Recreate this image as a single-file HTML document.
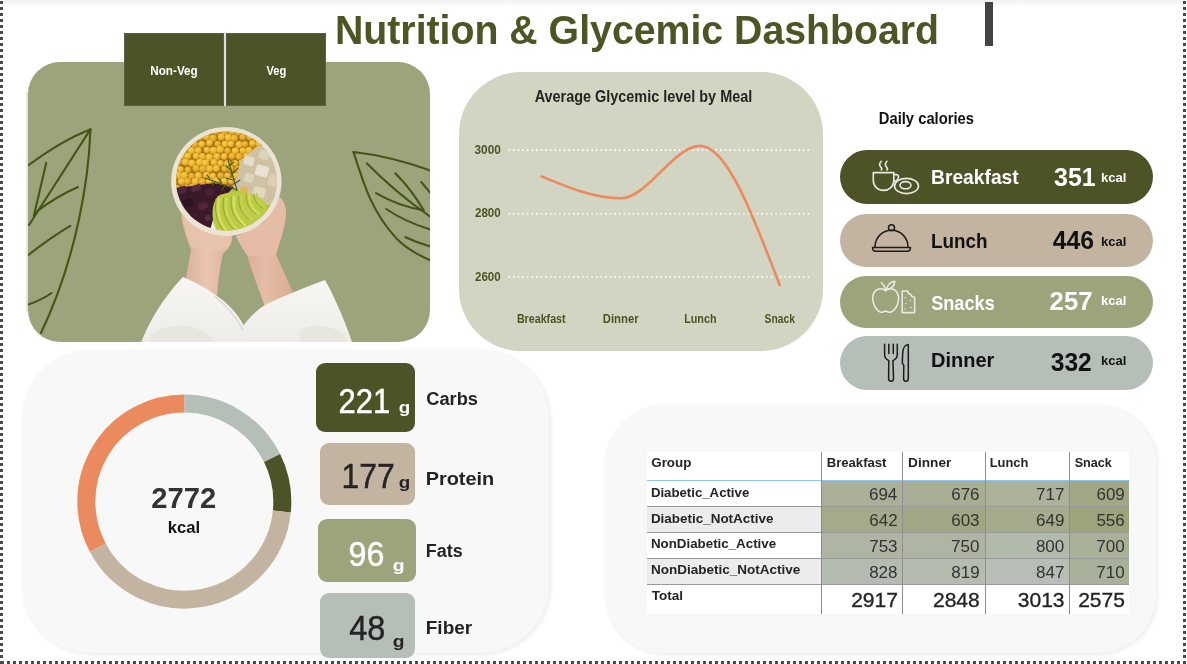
<!DOCTYPE html>
<html><head><meta charset="utf-8"><title>Nutrition &amp; Glycemic Dashboard</title><style>
*{margin:0;padding:0;box-sizing:border-box}
html,body{width:1187px;height:664px;overflow:hidden;background:#fff}
body{position:relative;font-family:'Liberation Sans', Arial, sans-serif}
.a{position:absolute}
svg text{font-family:'Liberation Sans', Arial, sans-serif}
</style></head><body>
<div class="a" style="left:3px;top:0;width:1180px;height:6px;background:linear-gradient(#efefef,#f6f6f6 45%,#fff)"></div>
<div class="a" style="left:0;top:0;width:3px;height:664px;background:repeating-linear-gradient(to bottom,transparent 0 1px,#4a4a4a 1px 4px,transparent 4px 6px)"></div>
<div class="a" style="left:1183px;top:0;width:3px;height:664px;background:repeating-linear-gradient(to bottom,transparent 0 1px,#4a4a4a 1px 4px,transparent 4px 6px)"></div>
<div class="a" style="left:0;top:661px;width:1186px;height:3px;background:repeating-linear-gradient(to right,transparent 0 1px,#4a4a4a 1px 4px,transparent 4px 6px)"></div>
<div class="a" style="left:0;top:661px;width:3px;height:3px;background:#4a4a4a"></div>
<div class="a" style="left:985px;top:2px;width:8px;height:44px;background:#444"></div>
<div class="a" style="left:26px;top:92px;width:3px;height:220px;background:#e3e6e6"></div>
<div class="a" id="imgcard" style="left:28px;top:62px;width:402px;height:280px;border-radius:32px;overflow:hidden;background:#9ca47c"><svg width="402" height="280" viewBox="28 62 402 280" style="display:block"><defs><clipPath id="bowlin"><ellipse cx="226.5" cy="181" rx="50.5" ry="49.5"/></clipPath><clipPath id="cp"><path d="M170,176 L172,150 L190,128 L228,122 L262,128 L276,146 L268,148 L258,146 L246,153 L240,160 L236,172 L229,180 L214,182 L196,180 L178,178 Z"/></clipPath><linearGradient id="skinL" x1="0" y1="0" x2="1" y2="0"><stop offset="0" stop-color="#d9ad96"/><stop offset="0.5" stop-color="#e9c5b0"/><stop offset="1" stop-color="#dcb09a"/></linearGradient><linearGradient id="skinR" x1="0" y1="0" x2="1" y2="0"><stop offset="0" stop-color="#d6a68e"/><stop offset="0.5" stop-color="#e5bda7"/><stop offset="1" stop-color="#daac95"/></linearGradient><linearGradient id="slv" x1="0" y1="0" x2="0" y2="1"><stop offset="0" stop-color="#f7f6f3"/><stop offset="1" stop-color="#eeece7"/></linearGradient><radialGradient id="cpA" cx="0.4" cy="0.35" r="0.7"><stop offset="0" stop-color="#f8d050"/><stop offset="0.6" stop-color="#eab530"/><stop offset="1" stop-color="#c98e1c"/></radialGradient><radialGradient id="cpB" cx="0.4" cy="0.35" r="0.7"><stop offset="0" stop-color="#f3c440"/><stop offset="0.6" stop-color="#e2a828"/><stop offset="1" stop-color="#c08418"/></radialGradient></defs><path d="M90.4,129.4 Q62,140 26,167" fill="none" stroke="#445516" stroke-width="2.1" stroke-linecap="round"/><path d="M90.4,129.4 C89,175 78,255 41,333" fill="none" stroke="#445516" stroke-width="2.1" stroke-linecap="round"/><path d="M90.4,129.4 L29,225" fill="none" stroke="#445516" stroke-width="2.1" stroke-linecap="round"/><path d="M46.2,163 L33.8,216" fill="none" stroke="#445516" stroke-width="2.1" stroke-linecap="round"/><path d="M35.6,212.5 Q55,197 78,187" fill="none" stroke="#445516" stroke-width="2.1" stroke-linecap="round"/><path d="M27,256 Q50,238 70.2,225.9" fill="none" stroke="#445516" stroke-width="2.1" stroke-linecap="round"/><path d="M27,305 Q42,300 51.5,293" fill="none" stroke="#445516" stroke-width="2.1" stroke-linecap="round"/><path d="M353.5,152 Q390,156 432,171" fill="none" stroke="#445516" stroke-width="2.1" stroke-linecap="round"/><path d="M353.5,152 C364,185 372,212 396.4,238.4 C408,250 420,256 432,261" fill="none" stroke="#445516" stroke-width="2.1" stroke-linecap="round"/><path d="M367,163.4 Q395,192 432,218" fill="none" stroke="#445516" stroke-width="2.1" stroke-linecap="round"/><path d="M395.3,173.3 Q412,190 423.5,210.1" fill="none" stroke="#445516" stroke-width="2.1" stroke-linecap="round"/><path d="M376,193.2 Q400,207 423.5,210.1" fill="none" stroke="#445516" stroke-width="2.1" stroke-linecap="round"/><path d="M386.3,209 Q405,222 432,230" fill="none" stroke="#445516" stroke-width="2.1" stroke-linecap="round"/><path d="M405.5,237.2 Q418,243 432,247" fill="none" stroke="#445516" stroke-width="2.1" stroke-linecap="round"/><path d="M421.3,182 L432,195" fill="none" stroke="#445516" stroke-width="2.1" stroke-linecap="round"/><path d="M181,214 C183,230 188,242 191,250 C189,262 187,272 185,284 L217,296 C218,282 220,266 223,254 C228,249 232,244 232,236 Z" fill="url(#skinL)"/><path d="M182,216 C184,229 188,240 192,247 C203,251 216,251 226,250 C230,246 232,242 232,236 Z" fill="#e8c3ad" opacity="0.9"/><path d="M236,236 C240,245 244,250 247,255 C252,272 259,290 266,310 L294,295 C288,281 281,266 276,254 C279,244 285,228 286,214 C286,205 283,199 279,197 C276,204 272,212 266,220 C258,228 246,233 236,236 Z" fill="url(#skinR)"/><path d="M236,236 C240,245 244,250 247,255 C256,257 268,256 276,254 C279,244 285,228 286,214 C286,205 283,199 279,197 C276,204 272,212 266,220 C258,228 246,233 236,236 Z" fill="#e6bda6" opacity="0.9"/><path d="M183,277 C195,282 206,288 214,294 C228,303 238,314 244,326 L248,345 L140,345 C146,330 152,318 160,306 C168,294 176,284 183,277 Z" fill="url(#slv)"/><path d="M243,326 C249,318 256,311 262,307 C272,301 282,297 292,293 C303,288 314,284 325,280 C334,296 344,318 353,345 L240,345 Z" fill="url(#slv)"/><path d="M214,296 C226,305 236,316 243,330" fill="none" stroke="#dcd8d0" stroke-width="1.5"/><path d="M150,335 C165,325 185,322 200,330 C210,336 215,342 218,345 L150,345 Z" fill="#e6e3dc" opacity="0.7"/><path d="M300,330 C315,322 330,325 345,335 L348,345 L300,345 Z" fill="#e6e3dc" opacity="0.7"/><ellipse cx="226.3" cy="181.5" rx="55.2" ry="54.5" fill="#ebe4d4"/><ellipse cx="226.5" cy="181" rx="50.5" ry="49.5" fill="#f2ede2"/><g clip-path="url(#bowlin)"><path d="M234.0,187.0 L214.0,183.0 L171.0,188.7 L170.7,176.7 L172.9,164.9 L177.8,153.9 L184.9,144.2 L194.0,136.2 L204.6,130.4 L216.3,126.9 L228.5,126.0 L240.5,127.8 L251.9,132.0 L262.1,138.6 L270.6,147.1 L258.0,146.0 L241.0,160.0 Z" fill="#a66f12"/><clipPath id="cp2"><path d="M234.0,187.0 L214.0,183.0 L171.0,188.7 L170.7,176.7 L172.9,164.9 L177.8,153.9 L184.9,144.2 L194.0,136.2 L204.6,130.4 L216.3,126.9 L228.5,126.0 L240.5,127.8 L251.9,132.0 L262.1,138.6 L270.6,147.1 L258.0,146.0 L241.0,160.0 Z" fill="#000"/></clipPath><g clip-path="url(#cp2)"><circle cx="162.6" cy="125.1" r="3.7" fill="url(#cpB)"/><circle cx="170.2" cy="125.1" r="3.2" fill="url(#cpA)"/><circle cx="177.9" cy="124.6" r="3.3" fill="url(#cpA)"/><circle cx="184.9" cy="125.1" r="3.5" fill="url(#cpA)"/><circle cx="192.0" cy="124.4" r="3.3" fill="url(#cpA)"/><circle cx="199.7" cy="124.8" r="3.6" fill="url(#cpA)"/><circle cx="205.5" cy="125.4" r="3.2" fill="url(#cpA)"/><circle cx="213.8" cy="125.5" r="3.5" fill="url(#cpB)"/><circle cx="221.0" cy="125.6" r="3.7" fill="url(#cpA)"/><circle cx="227.7" cy="125.4" r="3.5" fill="url(#cpA)"/><circle cx="235.7" cy="125.6" r="3.2" fill="url(#cpA)"/><circle cx="242.2" cy="124.6" r="3.5" fill="url(#cpA)"/><circle cx="249.6" cy="124.7" r="3.7" fill="url(#cpA)"/><circle cx="256.7" cy="125.1" r="3.6" fill="url(#cpB)"/><circle cx="264.4" cy="125.3" r="3.7" fill="url(#cpA)"/><circle cx="271.8" cy="125.3" r="3.6" fill="url(#cpA)"/><circle cx="277.9" cy="125.1" r="3.5" fill="url(#cpA)"/><circle cx="285.7" cy="124.5" r="3.4" fill="url(#cpA)"/><circle cx="166.0" cy="131.3" r="3.8" fill="url(#cpA)"/><circle cx="173.1" cy="131.8" r="3.7" fill="url(#cpB)"/><circle cx="180.2" cy="131.2" r="3.7" fill="url(#cpB)"/><circle cx="187.5" cy="131.5" r="3.4" fill="url(#cpA)"/><circle cx="195.5" cy="131.4" r="3.5" fill="url(#cpB)"/><circle cx="203.4" cy="131.0" r="3.3" fill="url(#cpA)"/><circle cx="209.9" cy="132.0" r="3.4" fill="url(#cpB)"/><circle cx="216.6" cy="131.6" r="3.4" fill="url(#cpB)"/><circle cx="224.9" cy="131.9" r="3.4" fill="url(#cpB)"/><circle cx="232.0" cy="131.1" r="3.6" fill="url(#cpA)"/><circle cx="238.0" cy="132.1" r="3.4" fill="url(#cpA)"/><circle cx="246.0" cy="131.6" r="3.5" fill="url(#cpB)"/><circle cx="252.6" cy="131.0" r="3.2" fill="url(#cpB)"/><circle cx="260.1" cy="131.4" r="3.4" fill="url(#cpA)"/><circle cx="267.5" cy="130.7" r="3.6" fill="url(#cpA)"/><circle cx="274.5" cy="131.6" r="3.6" fill="url(#cpB)"/><circle cx="281.4" cy="131.3" r="3.2" fill="url(#cpA)"/><circle cx="163.3" cy="138.3" r="3.6" fill="url(#cpB)"/><circle cx="169.9" cy="137.8" r="3.4" fill="url(#cpA)"/><circle cx="177.1" cy="137.4" r="3.4" fill="url(#cpA)"/><circle cx="185.1" cy="137.0" r="3.8" fill="url(#cpA)"/><circle cx="192.1" cy="137.0" r="3.3" fill="url(#cpA)"/><circle cx="199.5" cy="137.2" r="3.6" fill="url(#cpA)"/><circle cx="206.4" cy="137.0" r="3.4" fill="url(#cpA)"/><circle cx="213.1" cy="138.1" r="3.7" fill="url(#cpB)"/><circle cx="221.3" cy="136.9" r="3.6" fill="url(#cpA)"/><circle cx="228.4" cy="137.5" r="3.7" fill="url(#cpA)"/><circle cx="234.3" cy="138.3" r="3.7" fill="url(#cpB)"/><circle cx="242.7" cy="137.1" r="3.4" fill="url(#cpB)"/><circle cx="249.9" cy="136.9" r="3.4" fill="url(#cpA)"/><circle cx="256.0" cy="137.3" r="3.5" fill="url(#cpB)"/><circle cx="264.0" cy="137.3" r="3.4" fill="url(#cpA)"/><circle cx="271.7" cy="137.0" r="3.5" fill="url(#cpA)"/><circle cx="278.7" cy="137.8" r="3.5" fill="url(#cpA)"/><circle cx="286.1" cy="138.3" r="3.2" fill="url(#cpA)"/><circle cx="166.5" cy="144.3" r="3.5" fill="url(#cpA)"/><circle cx="173.5" cy="143.6" r="3.7" fill="url(#cpA)"/><circle cx="181.6" cy="144.7" r="3.7" fill="url(#cpA)"/><circle cx="187.5" cy="144.5" r="3.5" fill="url(#cpA)"/><circle cx="194.9" cy="144.5" r="3.5" fill="url(#cpB)"/><circle cx="201.8" cy="144.3" r="3.5" fill="url(#cpA)"/><circle cx="209.4" cy="143.1" r="3.4" fill="url(#cpA)"/><circle cx="217.7" cy="144.1" r="3.3" fill="url(#cpB)"/><circle cx="225.0" cy="144.0" r="3.4" fill="url(#cpA)"/><circle cx="230.9" cy="144.0" r="3.3" fill="url(#cpA)"/><circle cx="239.1" cy="144.6" r="3.7" fill="url(#cpA)"/><circle cx="245.0" cy="144.1" r="3.2" fill="url(#cpB)"/><circle cx="252.6" cy="143.5" r="3.5" fill="url(#cpA)"/><circle cx="259.5" cy="143.6" r="3.7" fill="url(#cpA)"/><circle cx="267.8" cy="143.2" r="3.2" fill="url(#cpA)"/><circle cx="275.4" cy="144.5" r="3.5" fill="url(#cpA)"/><circle cx="281.8" cy="143.4" r="3.4" fill="url(#cpA)"/><circle cx="163.2" cy="150.3" r="3.4" fill="url(#cpB)"/><circle cx="171.0" cy="150.1" r="3.5" fill="url(#cpA)"/><circle cx="177.7" cy="150.0" r="3.5" fill="url(#cpA)"/><circle cx="183.9" cy="150.1" r="3.7" fill="url(#cpA)"/><circle cx="191.6" cy="150.7" r="3.7" fill="url(#cpA)"/><circle cx="198.3" cy="150.4" r="3.4" fill="url(#cpA)"/><circle cx="206.9" cy="150.1" r="3.3" fill="url(#cpA)"/><circle cx="213.5" cy="150.5" r="3.7" fill="url(#cpA)"/><circle cx="220.2" cy="149.6" r="3.8" fill="url(#cpA)"/><circle cx="227.6" cy="150.8" r="3.3" fill="url(#cpB)"/><circle cx="235.3" cy="150.9" r="3.6" fill="url(#cpA)"/><circle cx="242.8" cy="150.7" r="3.3" fill="url(#cpA)"/><circle cx="249.1" cy="150.3" r="3.6" fill="url(#cpA)"/><circle cx="256.6" cy="149.8" r="3.2" fill="url(#cpB)"/><circle cx="263.1" cy="149.6" r="3.3" fill="url(#cpB)"/><circle cx="270.2" cy="150.7" r="3.2" fill="url(#cpA)"/><circle cx="277.6" cy="150.2" r="3.8" fill="url(#cpA)"/><circle cx="285.5" cy="150.7" r="3.8" fill="url(#cpA)"/><circle cx="166.7" cy="156.5" r="3.3" fill="url(#cpA)"/><circle cx="174.2" cy="157.2" r="3.5" fill="url(#cpA)"/><circle cx="181.6" cy="156.0" r="3.3" fill="url(#cpA)"/><circle cx="187.7" cy="156.1" r="3.6" fill="url(#cpA)"/><circle cx="196.1" cy="156.1" r="3.4" fill="url(#cpA)"/><circle cx="202.4" cy="156.4" r="3.4" fill="url(#cpA)"/><circle cx="209.4" cy="157.2" r="3.8" fill="url(#cpA)"/><circle cx="216.9" cy="156.6" r="3.6" fill="url(#cpA)"/><circle cx="224.2" cy="156.5" r="3.4" fill="url(#cpA)"/><circle cx="232.0" cy="156.0" r="3.6" fill="url(#cpB)"/><circle cx="239.3" cy="156.5" r="3.6" fill="url(#cpB)"/><circle cx="246.4" cy="155.9" r="3.3" fill="url(#cpA)"/><circle cx="253.0" cy="157.2" r="3.5" fill="url(#cpA)"/><circle cx="260.6" cy="156.8" r="3.6" fill="url(#cpB)"/><circle cx="267.5" cy="157.3" r="3.4" fill="url(#cpA)"/><circle cx="274.2" cy="157.0" r="3.3" fill="url(#cpA)"/><circle cx="281.6" cy="156.2" r="3.5" fill="url(#cpA)"/><circle cx="163.3" cy="163.1" r="3.5" fill="url(#cpA)"/><circle cx="170.7" cy="163.3" r="3.2" fill="url(#cpA)"/><circle cx="178.2" cy="162.1" r="3.7" fill="url(#cpB)"/><circle cx="185.2" cy="162.1" r="3.7" fill="url(#cpA)"/><circle cx="192.0" cy="163.2" r="3.8" fill="url(#cpA)"/><circle cx="199.6" cy="162.4" r="3.7" fill="url(#cpA)"/><circle cx="205.6" cy="163.0" r="3.7" fill="url(#cpA)"/><circle cx="214.0" cy="162.4" r="3.4" fill="url(#cpA)"/><circle cx="220.5" cy="163.2" r="3.3" fill="url(#cpA)"/><circle cx="227.4" cy="163.5" r="3.4" fill="url(#cpA)"/><circle cx="235.1" cy="163.1" r="3.2" fill="url(#cpA)"/><circle cx="241.9" cy="162.6" r="3.3" fill="url(#cpA)"/><circle cx="249.5" cy="163.5" r="3.3" fill="url(#cpB)"/><circle cx="256.3" cy="163.4" r="3.6" fill="url(#cpA)"/><circle cx="263.2" cy="163.4" r="3.3" fill="url(#cpB)"/><circle cx="271.7" cy="162.6" r="3.7" fill="url(#cpB)"/><circle cx="277.9" cy="163.1" r="3.8" fill="url(#cpA)"/><circle cx="285.9" cy="162.2" r="3.6" fill="url(#cpB)"/><circle cx="166.7" cy="168.5" r="3.5" fill="url(#cpB)"/><circle cx="173.1" cy="168.8" r="3.5" fill="url(#cpA)"/><circle cx="180.5" cy="169.3" r="3.3" fill="url(#cpA)"/><circle cx="188.0" cy="169.8" r="3.3" fill="url(#cpB)"/><circle cx="196.1" cy="168.5" r="3.6" fill="url(#cpB)"/><circle cx="202.8" cy="169.0" r="3.6" fill="url(#cpB)"/><circle cx="209.7" cy="168.8" r="3.6" fill="url(#cpA)"/><circle cx="216.4" cy="168.6" r="3.5" fill="url(#cpA)"/><circle cx="224.6" cy="168.9" r="3.4" fill="url(#cpB)"/><circle cx="230.7" cy="168.5" r="3.5" fill="url(#cpB)"/><circle cx="238.2" cy="169.5" r="3.7" fill="url(#cpB)"/><circle cx="246.5" cy="169.0" r="3.4" fill="url(#cpA)"/><circle cx="253.6" cy="168.5" r="3.6" fill="url(#cpB)"/><circle cx="260.5" cy="169.2" r="3.3" fill="url(#cpA)"/><circle cx="267.7" cy="169.2" r="3.6" fill="url(#cpA)"/><circle cx="275.1" cy="169.5" r="3.6" fill="url(#cpA)"/><circle cx="282.4" cy="169.6" r="3.5" fill="url(#cpA)"/><circle cx="163.1" cy="174.9" r="3.4" fill="url(#cpB)"/><circle cx="169.9" cy="175.9" r="3.7" fill="url(#cpB)"/><circle cx="178.1" cy="175.2" r="3.7" fill="url(#cpA)"/><circle cx="184.3" cy="175.4" r="3.6" fill="url(#cpA)"/><circle cx="191.5" cy="176.0" r="3.2" fill="url(#cpB)"/><circle cx="198.5" cy="175.6" r="3.7" fill="url(#cpA)"/><circle cx="206.5" cy="175.4" r="3.6" fill="url(#cpA)"/><circle cx="212.9" cy="175.9" r="3.2" fill="url(#cpA)"/><circle cx="220.6" cy="175.6" r="3.3" fill="url(#cpB)"/><circle cx="227.5" cy="175.7" r="3.3" fill="url(#cpA)"/><circle cx="235.5" cy="175.6" r="3.2" fill="url(#cpA)"/><circle cx="242.4" cy="175.4" r="3.5" fill="url(#cpB)"/><circle cx="250.1" cy="175.1" r="3.6" fill="url(#cpB)"/><circle cx="256.0" cy="176.0" r="3.7" fill="url(#cpA)"/><circle cx="263.1" cy="174.7" r="3.8" fill="url(#cpB)"/><circle cx="270.5" cy="174.7" r="3.5" fill="url(#cpA)"/><circle cx="278.6" cy="175.4" r="3.7" fill="url(#cpA)"/><circle cx="285.3" cy="176.0" r="3.3" fill="url(#cpA)"/><circle cx="166.6" cy="182.0" r="3.7" fill="url(#cpA)"/><circle cx="173.3" cy="181.7" r="3.5" fill="url(#cpA)"/><circle cx="181.4" cy="181.5" r="3.5" fill="url(#cpA)"/><circle cx="187.5" cy="181.3" r="3.5" fill="url(#cpB)"/><circle cx="195.2" cy="181.5" r="3.7" fill="url(#cpA)"/><circle cx="202.2" cy="181.5" r="3.5" fill="url(#cpB)"/><circle cx="209.3" cy="180.9" r="3.4" fill="url(#cpA)"/><circle cx="216.5" cy="180.9" r="3.6" fill="url(#cpA)"/><circle cx="224.1" cy="181.2" r="3.4" fill="url(#cpA)"/><circle cx="231.1" cy="181.0" r="3.2" fill="url(#cpA)"/><circle cx="238.4" cy="181.5" r="3.7" fill="url(#cpA)"/><circle cx="246.4" cy="181.3" r="3.5" fill="url(#cpB)"/><circle cx="252.5" cy="181.9" r="3.7" fill="url(#cpB)"/><circle cx="260.4" cy="182.2" r="3.4" fill="url(#cpB)"/><circle cx="267.9" cy="181.6" r="3.5" fill="url(#cpB)"/><circle cx="274.7" cy="180.9" r="3.6" fill="url(#cpB)"/><circle cx="281.6" cy="181.0" r="3.5" fill="url(#cpA)"/><circle cx="162.3" cy="188.2" r="3.2" fill="url(#cpA)"/><circle cx="169.5" cy="187.5" r="3.5" fill="url(#cpA)"/><circle cx="176.9" cy="188.0" r="3.3" fill="url(#cpB)"/><circle cx="185.4" cy="188.0" r="3.8" fill="url(#cpB)"/><circle cx="192.5" cy="187.3" r="3.7" fill="url(#cpB)"/><circle cx="199.2" cy="187.8" r="3.3" fill="url(#cpB)"/><circle cx="206.1" cy="188.0" r="3.4" fill="url(#cpA)"/><circle cx="213.7" cy="188.7" r="3.7" fill="url(#cpA)"/><circle cx="221.2" cy="187.8" r="3.4" fill="url(#cpA)"/><circle cx="227.3" cy="188.5" r="3.3" fill="url(#cpB)"/><circle cx="235.4" cy="188.0" r="3.7" fill="url(#cpB)"/><circle cx="242.2" cy="188.4" r="3.6" fill="url(#cpA)"/><circle cx="250.1" cy="187.3" r="3.6" fill="url(#cpA)"/><circle cx="255.8" cy="187.9" r="3.6" fill="url(#cpA)"/><circle cx="263.2" cy="187.6" r="3.2" fill="url(#cpA)"/><circle cx="271.2" cy="187.3" r="3.7" fill="url(#cpB)"/><circle cx="278.6" cy="187.7" r="3.2" fill="url(#cpB)"/><circle cx="284.9" cy="188.5" r="3.4" fill="url(#cpA)"/></g><path d="M234.0,187.0 L241.0,160.0 L258.0,146.0 L270.6,147.1 L273.7,151.4 L276.4,156.0 L278.6,160.8 L280.3,165.8 L281.6,171.0 L282.3,176.2 L282.5,181.5 L282.2,186.7 L281.4,192.0 L280.1,197.1 L278.2,202.0 L275.9,206.8 L252.0,200.0 Z" fill="#cfc2a2"/><rect x="244.0" y="156.5" width="10.0" height="9.0" rx="2" fill="#e4ddcc" transform="rotate(15 249.0 161.0)"/><rect x="259.0" y="150.5" width="10.0" height="9.0" rx="2" fill="#dcd3bd" transform="rotate(15 264.0 155.0)"/><rect x="255.5" y="165.5" width="13.0" height="11.0" rx="2" fill="#e9e2d3" transform="rotate(15 262.0 171.0)"/><rect x="244.5" y="173.5" width="9.0" height="9.0" rx="2" fill="#ddd4c0" transform="rotate(15 249.0 178.0)"/><rect x="268.5" y="174.0" width="9.0" height="12.0" rx="2" fill="#d9cfb6" transform="rotate(15 273.0 180.0)"/><rect x="253.0" y="187.0" width="12.0" height="10.0" rx="2" fill="#e2d8c2" transform="rotate(15 259.0 192.0)"/><rect x="268.0" y="194.0" width="8.0" height="8.0" rx="2" fill="#cdbf9f" transform="rotate(15 272.0 198.0)"/><rect x="240.0" y="187.0" width="8.0" height="8.0" rx="2" fill="#e0b84a" transform="rotate(15 244.0 191.0)"/><rect x="251.5" y="200.5" width="7.0" height="5.0" rx="2" fill="#d8b060" transform="rotate(15 255.0 203.0)"/><path d="M234.0,187.0 L222.0,200.0 L214.0,216.0 L209.2,233.3 L204.3,231.5 L199.6,229.3 L195.2,226.6 L191.0,223.5 L187.1,220.1 L183.6,216.4 L180.4,212.3 L177.7,207.9 L175.3,203.4 L173.4,198.6 L172.0,193.7 L171.0,188.7 L214.0,183.0 Z" fill="#3a1929"/><rect x="177.5" y="186.5" width="9.0" height="7.0" rx="1.5" fill="#4e2437" transform="rotate(-20 182.0 190.0)"/><rect x="191.0" y="185.0" width="10.0" height="6.0" rx="1.5" fill="#552940" transform="rotate(-20 196.0 188.0)"/><rect x="206.0" y="188.5" width="8.0" height="7.0" rx="1.5" fill="#4a2033" transform="rotate(-20 210.0 192.0)"/><rect x="183.5" y="199.0" width="9.0" height="8.0" rx="1.5" fill="#2e1220" transform="rotate(-20 188.0 203.0)"/><rect x="198.0" y="202.5" width="10.0" height="7.0" rx="1.5" fill="#4f2538" transform="rotate(-20 203.0 206.0)"/><rect x="190.0" y="214.0" width="8.0" height="6.0" rx="1.5" fill="#3f1b2c" transform="rotate(-20 194.0 217.0)"/><rect x="205.0" y="215.0" width="6.0" height="6.0" rx="1.5" fill="#5a2b42" transform="rotate(-20 208.0 218.0)"/><rect x="176.5" y="205.0" width="7.0" height="6.0" rx="1.5" fill="#4a2234" transform="rotate(-20 180.0 208.0)"/><path d="M234.0,187.0 L252.0,200.0 L275.9,206.8 L272.9,211.8 L269.4,216.4 L265.4,220.6 L261.0,224.3 L256.2,227.6 L251.0,230.4 L245.7,232.7 L240.0,234.4 L234.3,235.5 L228.5,236.0 L222.6,235.9 L216.8,235.2 L214.0,216.0 L222.0,200.0 Z" fill="#b3c23a"/><path d="M218,196 C232,189 258,191 266,204 C269,215 259,226 246,232 C237,236 226,237 219,233 C211,226 210,205 218,196 Z" fill="#bccb44"/><path d="M219.0,199.0 Q215.0,220.5 231.0,236.0" fill="none" stroke="#d4dc62" stroke-width="2.6" stroke-linecap="round"/><path d="M216.0,199.0 Q212.0,220.5 228.0,236.0" fill="none" stroke="#8fa12c" stroke-width="0.9" stroke-linecap="round"/><path d="M226.5,198.0 Q223.5,217.2 238.0,230.5" fill="none" stroke="#cbd558" stroke-width="2.6" stroke-linecap="round"/><path d="M223.5,198.0 Q220.5,217.2 235.0,230.5" fill="none" stroke="#8fa12c" stroke-width="0.9" stroke-linecap="round"/><path d="M234.0,197.0 Q232.0,214.0 245.0,225.0" fill="none" stroke="#d6de66" stroke-width="2.6" stroke-linecap="round"/><path d="M231.0,197.0 Q229.0,214.0 242.0,225.0" fill="none" stroke="#8fa12c" stroke-width="0.9" stroke-linecap="round"/><path d="M241.5,196.0 Q240.5,210.8 252.0,219.5" fill="none" stroke="#c6d152" stroke-width="2.6" stroke-linecap="round"/><path d="M238.5,196.0 Q237.5,210.8 249.0,219.5" fill="none" stroke="#8fa12c" stroke-width="0.9" stroke-linecap="round"/><path d="M249.0,195.0 Q249.0,207.5 259.0,214.0" fill="none" stroke="#d0d95e" stroke-width="2.6" stroke-linecap="round"/><path d="M246.0,195.0 Q246.0,207.5 256.0,214.0" fill="none" stroke="#8fa12c" stroke-width="0.9" stroke-linecap="round"/><path d="M256.5,194.0 Q257.5,204.2 266.0,208.5" fill="none" stroke="#c2ce4e" stroke-width="2.6" stroke-linecap="round"/><path d="M253.5,194.0 Q254.5,204.2 263.0,208.5" fill="none" stroke="#8fa12c" stroke-width="0.9" stroke-linecap="round"/></g><path d="M237,190 L228,160" stroke="#3f5a26" stroke-width="1.1" fill="none" stroke-linecap="round"/><path d="M237,190 L205,178" stroke="#3f5a26" stroke-width="1.1" fill="none" stroke-linecap="round"/><path d="M231,170 L226,166" stroke="#3f5a26" stroke-width="1.1" fill="none" stroke-linecap="round"/><path d="M232,174 L238,168" stroke="#3f5a26" stroke-width="1.1" fill="none" stroke-linecap="round"/><path d="M229,166 L234,162" stroke="#3f5a26" stroke-width="1.1" fill="none" stroke-linecap="round"/><path d="M233,180 L226,178" stroke="#3f5a26" stroke-width="1.1" fill="none" stroke-linecap="round"/><path d="M222,183 L218,178" stroke="#3f5a26" stroke-width="1.1" fill="none" stroke-linecap="round"/><path d="M215,181 L212,186" stroke="#3f5a26" stroke-width="1.1" fill="none" stroke-linecap="round"/><path d="M225,185 L222,190" stroke="#3f5a26" stroke-width="1.1" fill="none" stroke-linecap="round"/><path d="M210,179 L207,175" stroke="#3f5a26" stroke-width="1.1" fill="none" stroke-linecap="round"/><path d="M234,184 L240,180" stroke="#3f5a26" stroke-width="1.1" fill="none" stroke-linecap="round"/></svg></div>
<div class="a" style="left:124px;top:33px;width:202px;height:73px;background:#dedede"></div>
<div class="a" style="left:124px;top:33px;width:100px;height:73px;background:#4d5327;border:1px solid #5b5e48"></div>
<div class="a" style="left:226px;top:33px;width:100px;height:73px;background:#4d5327;border:1px solid #5b5e48"></div>
<div class="a" style="left:459px;top:72px;width:364px;height:279px;border-radius:62px;background:#d3d5c3"></div>
<div class="a" style="left:840px;top:150.0px;width:313px;height:53.5px;border-radius:27px;background:#4d5327"></div>
<div class="a" style="left:840px;top:214.0px;width:313px;height:52.5px;border-radius:27px;background:#c3b4a2"></div>
<div class="a" style="left:840px;top:275.5px;width:313px;height:52.0px;border-radius:27px;background:#9ca47c"></div>
<div class="a" style="left:840px;top:336.0px;width:313px;height:53.5px;border-radius:27px;background:#b5bfb7"></div>
<div class="a" style="left:23px;top:351px;width:526px;height:302px;border-radius:68px;background:#f8f8f8;box-shadow:1px 1px 4px 1px rgba(0,0,0,0.07)"></div>
<div class="a" style="left:606px;top:406px;width:550px;height:247px;border-radius:58px;background:#f8f8f8;box-shadow:1px 1px 4px 1px rgba(0,0,0,0.07)"></div>
<div class="a" style="left:316.3px;top:363.0px;width:99.0px;height:69.0px;border-radius:9px;background:#4d5327"></div>
<div class="a" style="left:319.7px;top:442.5px;width:95.6px;height:62.5px;border-radius:9px;background:#c3b4a2"></div>
<div class="a" style="left:318.1px;top:519.0px;width:97.6px;height:63.0px;border-radius:9px;background:#9ca47c"></div>
<div class="a" style="left:319.7px;top:592.5px;width:95.6px;height:65.5px;border-radius:9px;background:#b5bfb7"></div>
<svg class="a" style="left:0;top:0;will-change:transform" width="1187" height="664" viewBox="0 0 1187 664"><text x="334.97" y="44.00" font-size="40.70" font-weight="bold" fill="#4e5524" textLength="604.11" lengthAdjust="spacingAndGlyphs">Nutrition &amp; Glycemic Dashboard</text>
<text x="150.23" y="74.70" font-size="12.50" font-weight="bold" fill="#fff" textLength="47.55" lengthAdjust="spacingAndGlyphs">Non-Veg</text>
<text x="266.53" y="74.70" font-size="12.50" font-weight="bold" fill="#fff" textLength="19.69" lengthAdjust="spacingAndGlyphs">Veg</text>
<text x="534.64" y="102.10" font-size="15.70" font-weight="bold" fill="#252423" textLength="217.58" lengthAdjust="spacingAndGlyphs">Average Glycemic level by Meal</text>
<text x="474.53" y="154.10" font-size="11.90" font-weight="bold" fill="#4d5326" textLength="26.36" lengthAdjust="spacingAndGlyphs">3000</text>
<text x="475.00" y="217.10" font-size="11.90" font-weight="bold" fill="#4d5326" textLength="25.67" lengthAdjust="spacingAndGlyphs">2800</text>
<text x="475.00" y="280.80" font-size="11.90" font-weight="bold" fill="#4d5326" textLength="25.67" lengthAdjust="spacingAndGlyphs">2600</text>
<line x1="508.5" y1="150.1" x2="811" y2="150.1" stroke="#fff" stroke-width="1.6" stroke-dasharray="1.6 3"/>
<line x1="508.5" y1="213.7" x2="811" y2="213.7" stroke="#fff" stroke-width="1.6" stroke-dasharray="1.6 3"/>
<line x1="508.5" y1="277.0" x2="811" y2="277.0" stroke="#fff" stroke-width="1.6" stroke-dasharray="1.6 3"/>
<text x="516.88" y="323.20" font-size="12.30" font-weight="bold" fill="#4d5326" textLength="48.75" lengthAdjust="spacingAndGlyphs">Breakfast</text>
<text x="602.85" y="323.20" font-size="12.30" font-weight="bold" fill="#4d5326" textLength="35.73" lengthAdjust="spacingAndGlyphs">Dinner</text>
<text x="684.18" y="323.20" font-size="12.30" font-weight="bold" fill="#4d5326" textLength="32.39" lengthAdjust="spacingAndGlyphs">Lunch</text>
<text x="764.60" y="323.20" font-size="12.30" font-weight="bold" fill="#4d5326" textLength="30.29" lengthAdjust="spacingAndGlyphs">Snack</text>
<path d="M541.5,176.4 C567.9,187.4 594.3,198.3 620.7,198.3 C647.2,198.3 673.8,145.9 700.3,145.9 C726.8,145.9 753.2,215.4 779.7,285" fill="none" stroke="#eb8a5e" stroke-width="2.6" stroke-linecap="round"/>
<text x="878.81" y="124.00" font-size="15.70" font-weight="bold" fill="#111" textLength="95.19" lengthAdjust="spacingAndGlyphs">Daily calories</text>
<text x="931.01" y="183.90" font-size="20.40" font-weight="bold" fill="#fff" textLength="87.72" lengthAdjust="spacingAndGlyphs">Breakfast</text>
<text x="1054.03" y="185.90" font-size="25.80" font-weight="bold" fill="#fff" textLength="41.67" lengthAdjust="spacingAndGlyphs">351</text>
<text x="1100.99" y="182.30" font-size="13.10" font-weight="bold" fill="#fff" textLength="25.44" lengthAdjust="spacingAndGlyphs">kcal</text>
<text x="931.04" y="247.60" font-size="20.40" font-weight="bold" fill="#111" textLength="56.63" lengthAdjust="spacingAndGlyphs">Lunch</text>
<text x="1052.63" y="249.00" font-size="25.80" font-weight="bold" fill="#111" textLength="41.27" lengthAdjust="spacingAndGlyphs">446</text>
<text x="1100.99" y="245.60" font-size="13.10" font-weight="bold" fill="#111" textLength="25.44" lengthAdjust="spacingAndGlyphs">kcal</text>
<text x="931.18" y="309.50" font-size="20.40" font-weight="bold" fill="#fff" textLength="63.57" lengthAdjust="spacingAndGlyphs">Snacks</text>
<text x="1049.61" y="310.00" font-size="25.80" font-weight="bold" fill="#fff" textLength="42.82" lengthAdjust="spacingAndGlyphs">257</text>
<text x="1100.99" y="305.30" font-size="13.10" font-weight="bold" fill="#fff" textLength="25.44" lengthAdjust="spacingAndGlyphs">kcal</text>
<text x="930.96" y="367.00" font-size="20.40" font-weight="bold" fill="#111" textLength="63.34" lengthAdjust="spacingAndGlyphs">Dinner</text>
<text x="1050.74" y="371.20" font-size="25.80" font-weight="bold" fill="#111" textLength="41.05" lengthAdjust="spacingAndGlyphs">332</text>
<text x="1100.99" y="365.00" font-size="13.10" font-weight="bold" fill="#111" textLength="25.44" lengthAdjust="spacingAndGlyphs">kcal</text>
<path d="M184.30,403.60 A98.0,98.0 0 0 1 272.08,458.03" fill="none" stroke="#b5bfb7" stroke-width="18"/>
<path d="M272.08,458.03 A98.0,98.0 0 0 1 281.80,511.50" fill="none" stroke="#4d5327" stroke-width="18"/>
<path d="M281.80,511.50 A98.0,98.0 0 0 1 97.77,547.61" fill="none" stroke="#c3b4a2" stroke-width="18"/>
<path d="M97.77,547.61 A98.0,98.0 0 0 1 184.30,403.60" fill="none" stroke="#eb8a5e" stroke-width="18"/>
<text x="151.19" y="508.00" font-size="29.70" font-weight="bold" fill="#333" textLength="64.98" lengthAdjust="spacingAndGlyphs">2772</text>
<text x="167.84" y="532.50" font-size="17.20" font-weight="bold" fill="#111" textLength="32.34" lengthAdjust="spacingAndGlyphs">kcal</text>
<text x="338.44" y="413.30" font-size="34.40" font-weight="normal" fill="#fff" textLength="51.67" lengthAdjust="spacingAndGlyphs" stroke="#fff" stroke-width="0.45">221</text>
<text x="398.73" y="412.50" font-size="16.50" font-weight="bold" fill="#fff" textLength="11.54" lengthAdjust="spacingAndGlyphs">g</text>
<text x="426.25" y="405.20" font-size="18.90" font-weight="bold" fill="#252423" textLength="51.70" lengthAdjust="spacingAndGlyphs">Carbs</text>
<text x="341.47" y="488.30" font-size="34.40" font-weight="normal" fill="#252423" textLength="53.13" lengthAdjust="spacingAndGlyphs" stroke="#252423" stroke-width="0.45">177</text>
<text x="398.73" y="487.50" font-size="16.50" font-weight="bold" fill="#252423" textLength="11.54" lengthAdjust="spacingAndGlyphs">g</text>
<text x="425.67" y="484.70" font-size="18.90" font-weight="bold" fill="#252423" textLength="68.57" lengthAdjust="spacingAndGlyphs">Protein</text>
<text x="348.49" y="565.60" font-size="34.40" font-weight="normal" fill="#fff" textLength="35.93" lengthAdjust="spacingAndGlyphs" stroke="#fff" stroke-width="0.45">96</text>
<text x="392.81" y="571.00" font-size="16.50" font-weight="bold" fill="#fff" textLength="11.78" lengthAdjust="spacingAndGlyphs">g</text>
<text x="425.80" y="556.60" font-size="18.90" font-weight="bold" fill="#252423" textLength="36.94" lengthAdjust="spacingAndGlyphs">Fats</text>
<text x="349.25" y="640.00" font-size="34.40" font-weight="normal" fill="#252423" textLength="36.16" lengthAdjust="spacingAndGlyphs" stroke="#252423" stroke-width="0.45">48</text>
<text x="392.81" y="646.50" font-size="16.50" font-weight="bold" fill="#252423" textLength="11.78" lengthAdjust="spacingAndGlyphs">g</text>
<text x="425.73" y="633.80" font-size="18.90" font-weight="bold" fill="#252423" textLength="46.56" lengthAdjust="spacingAndGlyphs">Fiber</text>
<g fill="none" stroke="#ebe9df" stroke-width="1.6" stroke-linecap="round" stroke-linejoin="round">
<path d="M881.3,161.3 C879.3,163.3 879.3,165.3 880.6,166.8 C882,168.3 882,169.3 881.3,170"/>
<path d="M887,161.3 C885,163.3 885,165.3 886.3,166.8 C887.7,168.3 887.7,169.3 887,170"/>
<path d="M873.3,172.6 L893.8,172.6 L893.8,180.5 C893.8,186.2 889.2,190.4 883.6,190.4 C877.9,190.4 873.3,186.2 873.3,180.5 Z"/>
<path d="M893.9,174.6 L896.2,174.6 C899,174.6 899.4,178.6 896.8,180.1 L894.6,181.4"/>
<ellipse cx="906.5" cy="186" rx="12" ry="7.6"/>
<ellipse cx="905.5" cy="185.2" rx="5.5" ry="3.6"/>
</g>
<g fill="none" stroke="#1c1c1c" stroke-width="1.5" stroke-linecap="round" stroke-linejoin="round">
<circle cx="891.5" cy="227.7" r="3"/>
<path d="M875,246.8 A16.5,16.5 0 0 1 908,246.8"/>
<path d="M872.5,247.6 L910.5,247.6 C910.5,249.6 909.5,251.3 907.6,251.3 L875.4,251.3 C873.5,251.3 872.5,249.6 872.5,247.6 Z"/>
</g>
<g fill="none" stroke="#ebe9df" stroke-width="1.6" stroke-linecap="round" stroke-linejoin="round">
<path d="M885.6,290.8 C883,288.6 879.6,288.4 877,289.8 C873.6,291.8 872.4,296 872.8,300 C873.4,305.6 876.8,311 880.6,312.2 C882.6,312.8 884.2,311.4 885.6,311 C887,311.4 888.6,312.8 890.6,312.2 C894.6,311 898,305.6 898.5,300 C898.9,296 897.6,291.8 894.2,289.8 C891.6,288.4 888.2,288.6 885.6,290.8 Z"/>
<path d="M885.6,289.8 C885,286.6 883.4,284.2 881.4,282.6"/>
<path d="M886.6,289.4 C887.2,285 890.6,281.6 894.8,281.2 C894.6,285.6 891.6,288.8 886.6,289.4 Z"/>
<path d="M902.2,291 L907.4,291 C907.8,292.6 908.8,293.6 910,294 C911,294.4 911.8,295.6 912,296.6 L914.6,297.4 L914.6,312.6 L902.2,312.6 Z"/>
</g>
<circle cx="905.2" cy="297.4" r="0.75" fill="#ebe9df"/>
<circle cx="910.2" cy="300.4" r="0.75" fill="#ebe9df"/>
<circle cx="905.8" cy="303.6" r="0.75" fill="#ebe9df"/>
<circle cx="910.8" cy="307.4" r="0.75" fill="#ebe9df"/>
<circle cx="904.8" cy="309.0" r="0.75" fill="#ebe9df"/>
<g fill="none" stroke="#1c1c1c" stroke-width="1.5" stroke-linecap="round" stroke-linejoin="round">
<path d="M884.6,344.3 L884.6,354.4 C884.6,357.6 886.4,359.4 888.8,360.6 L888.6,378.2 C888.6,380 889.8,381.2 891.1,381.2 C892.4,381.2 893.5,380 893.5,378.2 L892.9,360.6 C895.4,359.4 897.3,357.6 897.3,354.4 L897.3,344.3"/>
<path d="M888.8,344.3 L888.8,353.4 M893.3,344.3 L893.3,353.4"/>
<path d="M908,344.4 C905,344.8 902.8,348.6 902.7,353.4 L902.3,362.6 C902.3,363.8 903.2,364.6 903.8,365.4 L903.6,378.6 C903.6,380.4 904.6,381.3 905.9,381.3 C907.4,381.3 908.3,380.4 908.3,378.6 L908.3,345 Z"/>
</g>
<rect x="647" y="452" width="482" height="162" fill="#fff"/>
<rect x="822" y="480" width="80" height="26" fill="#a9b097"/>
<rect x="903" y="480" width="82" height="26" fill="#a7ae93"/>
<rect x="986" y="480" width="83" height="26" fill="#abb29b"/>
<rect x="1070" y="480" width="59" height="26" fill="#a2a886"/>
<rect x="647" y="506" width="174" height="26" fill="#ececec"/>
<rect x="822" y="506" width="80" height="26" fill="#a4ab8c"/>
<rect x="903" y="506" width="82" height="26" fill="#a1a784"/>
<rect x="986" y="506" width="83" height="26" fill="#a5ac8e"/>
<rect x="1070" y="506" width="59" height="26" fill="#9da37b"/>
<rect x="822" y="532" width="80" height="26" fill="#aeb5a2"/>
<rect x="903" y="532" width="82" height="26" fill="#aeb5a2"/>
<rect x="986" y="532" width="83" height="26" fill="#b2baac"/>
<rect x="1070" y="532" width="59" height="26" fill="#a9b098"/>
<rect x="647" y="558" width="174" height="26" fill="#ececec"/>
<rect x="822" y="558" width="80" height="26" fill="#b4bcb1"/>
<rect x="903" y="558" width="82" height="26" fill="#b4bbaf"/>
<rect x="986" y="558" width="83" height="26" fill="#b6beb5"/>
<rect x="1070" y="558" width="59" height="26" fill="#aab19a"/>
<rect x="647" y="506" width="482" height="1" fill="#9a9a9a"/>
<rect x="647" y="532" width="482" height="1" fill="#9a9a9a"/>
<rect x="647" y="558" width="482" height="1" fill="#9a9a9a"/>
<rect x="647" y="584" width="482" height="1" fill="#9a9a9a"/>
<rect x="647" y="480" width="482" height="1" fill="#8ec6f5"/>
<rect x="902" y="452" width="1" height="162" fill="#8f8f8f"/>
<rect x="985" y="452" width="1" height="162" fill="#8f8f8f"/>
<rect x="1069" y="452" width="1" height="162" fill="#8f8f8f"/>
<rect x="821" y="452" width="1" height="28" fill="#8f8f8f"/>
<rect x="821" y="480" width="1" height="134" fill="#3f9ef2"/>
<text x="651.25" y="467.10" font-size="13.70" font-weight="bold" fill="#252423" textLength="40.10" lengthAdjust="spacingAndGlyphs">Group</text>
<text x="826.72" y="467.10" font-size="13.70" font-weight="bold" fill="#252423" textLength="59.74" lengthAdjust="spacingAndGlyphs">Breakfast</text>
<text x="908.09" y="467.10" font-size="13.70" font-weight="bold" fill="#252423" textLength="43.22" lengthAdjust="spacingAndGlyphs">Dinner</text>
<text x="989.74" y="467.10" font-size="13.70" font-weight="bold" fill="#252423" textLength="38.56" lengthAdjust="spacingAndGlyphs">Lunch</text>
<text x="1074.64" y="467.10" font-size="13.70" font-weight="bold" fill="#252423" textLength="37.15" lengthAdjust="spacingAndGlyphs">Snack</text>
<text x="650.92" y="496.90" font-size="13.70" font-weight="bold" fill="#252423" textLength="98.33" lengthAdjust="spacingAndGlyphs">Diabetic_Active</text>
<text x="650.90" y="522.80" font-size="13.70" font-weight="bold" fill="#252423" textLength="122.56" lengthAdjust="spacingAndGlyphs">Diabetic_NotActive</text>
<text x="650.91" y="548.30" font-size="13.70" font-weight="bold" fill="#252423" textLength="125.25" lengthAdjust="spacingAndGlyphs">NonDiabetic_Active</text>
<text x="650.90" y="574.10" font-size="13.70" font-weight="bold" fill="#252423" textLength="149.47" lengthAdjust="spacingAndGlyphs">NonDiabetic_NotActive</text>
<text x="651.65" y="599.90" font-size="13.70" font-weight="bold" fill="#252423" textLength="31.38" lengthAdjust="spacingAndGlyphs">Total</text>
<text x="897.30" y="499.80" font-size="17.00" font-weight="normal" fill="#333" text-anchor="end">694</text>
<text x="979.55" y="499.80" font-size="17.00" font-weight="normal" fill="#333" text-anchor="end">676</text>
<text x="1064.45" y="499.80" font-size="17.00" font-weight="normal" fill="#333" text-anchor="end">717</text>
<text x="1124.81" y="499.80" font-size="17.00" font-weight="normal" fill="#333" text-anchor="end">609</text>
<text x="897.65" y="525.80" font-size="17.00" font-weight="normal" fill="#333" text-anchor="end">642</text>
<text x="979.55" y="525.80" font-size="17.00" font-weight="normal" fill="#333" text-anchor="end">603</text>
<text x="1064.41" y="525.80" font-size="17.00" font-weight="normal" fill="#333" text-anchor="end">649</text>
<text x="1124.75" y="525.80" font-size="17.00" font-weight="normal" fill="#333" text-anchor="end">556</text>
<text x="897.55" y="551.80" font-size="17.00" font-weight="normal" fill="#333" text-anchor="end">753</text>
<text x="979.46" y="551.80" font-size="17.00" font-weight="normal" fill="#333" text-anchor="end">750</text>
<text x="1064.26" y="551.80" font-size="17.00" font-weight="normal" fill="#333" text-anchor="end">800</text>
<text x="1124.66" y="551.80" font-size="17.00" font-weight="normal" fill="#333" text-anchor="end">700</text>
<text x="897.54" y="577.80" font-size="17.00" font-weight="normal" fill="#333" text-anchor="end">828</text>
<text x="979.61" y="577.80" font-size="17.00" font-weight="normal" fill="#333" text-anchor="end">819</text>
<text x="1064.45" y="577.80" font-size="17.00" font-weight="normal" fill="#333" text-anchor="end">847</text>
<text x="1124.66" y="577.80" font-size="17.00" font-weight="normal" fill="#333" text-anchor="end">710</text>
<text x="897.86" y="607.10" font-size="21.00" font-weight="normal" fill="#252423" text-anchor="end" stroke="#252423" stroke-width="0.35">2917</text>
<text x="979.71" y="607.10" font-size="21.00" font-weight="normal" fill="#252423" text-anchor="end" stroke="#252423" stroke-width="0.35">2848</text>
<text x="1064.52" y="607.10" font-size="21.00" font-weight="normal" fill="#252423" text-anchor="end" stroke="#252423" stroke-width="0.35">3013</text>
<text x="1124.88" y="607.10" font-size="21.00" font-weight="normal" fill="#252423" text-anchor="end" stroke="#252423" stroke-width="0.35">2575</text></svg>
</body></html>
